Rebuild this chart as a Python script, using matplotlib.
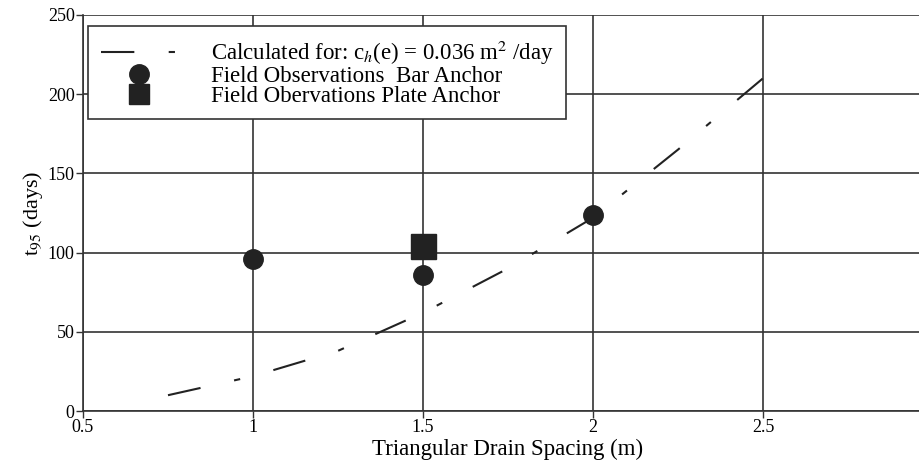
import matplotlib
matplotlib.use("Agg")
import matplotlib.pyplot as plt

plt.rcParams['font.family'] = ['Liberation Serif', 'DejaVu Serif']
plt.rcParams['mathtext.fontset'] = 'stix'

# calculated curve, c_h(e) = 0.036 m2/day
calc_x = [0.75, 1.0, 1.25, 1.5, 1.75, 2.0, 2.25, 2.5]
calc_y = [10, 22, 38, 62, 90, 122, 165, 210]

# field observations
bar_x = [1.0, 1.5, 2.0]
bar_y = [96, 86, 124]
plate_x = [1.5]
plate_y = [104]

xticks = [0.5, 1, 1.5, 2, 2.5, 3]
yticks = [0, 50, 100, 150, 200, 250]

fig = plt.figure(figsize=(9.19, 4.65), dpi=100)
ax = fig.add_axes([0.0903, 0.116, 0.925, 0.852])

ax.plot(calc_x, calc_y, color='#222222', lw=1.5, dashes=(16, 16.5, 3, 16.5),
        label='Calculated for: c$_h$(e) = 0.036 m$^2$ /day')
ax.plot(bar_x, bar_y, 'o', color='#222222', ms=14, ls='none',
        label='Field Observations  Bar Anchor')
ax.plot(plate_x, plate_y, 's', color='#222222', ms=18, ls='none',
        label='Field Obervations Plate Anchor')

ax.set_xlim(0.5, 3)
ax.set_ylim(0, 250)
ax.set_xticks(xticks)
ax.set_xticklabels(['0.5', '1', '1.5', '2', '2.5', ''])
ax.set_yticks(yticks)
ax.grid(True, color='#333333', lw=1.2)
ax.set_axisbelow(True)
for s in ['top', 'right']:
    ax.spines[s].set_visible(False)
for s in ['left', 'bottom']:
    ax.spines[s].set_color('#333333')
    ax.spines[s].set_linewidth(1.2)
ax.tick_params(length=5, width=1, color='#333333', labelsize=13, pad=1)

ax.set_xlabel('Triangular Drain Spacing (m)', fontsize=16.5, labelpad=2)
ax.set_ylabel('t$_{95}$ (days)', fontsize=16, labelpad=2)

leg = ax.legend(loc='upper left', bbox_to_anchor=(0.006, 0.972), fontsize=16.5,
                frameon=True, fancybox=False, edgecolor='#333333',
                handlelength=3.3, handletextpad=1.5, borderpad=0.55,
                labelspacing=-0.05, borderaxespad=0)
leg.get_frame().set_linewidth(1.2)
leg.get_frame().set_alpha(1)
leg.legend_handles[1].set_markersize(14)
leg.legend_handles[2].set_markersize(14.5)

fig.savefig('out.png', dpi=100)
